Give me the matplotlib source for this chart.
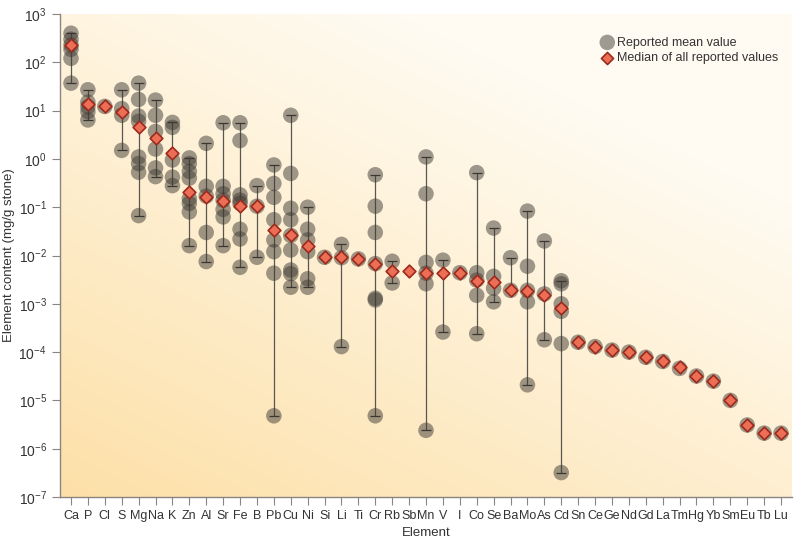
import numpy as np
import matplotlib
matplotlib.use("Agg")
import matplotlib.pyplot as plt

plt.rcParams['font.family'] = ['Liberation Sans', 'DejaVu Sans']
plt.rcParams['mathtext.default'] = 'regular'

# ── DATA ─────────────────────────────────────────────────────────────────────
elements = ['Ca', 'P', 'Cl', 'S', 'Mg', 'Na', 'K', 'Zn', 'Al', 'Sr', 'Fe', 'B', 'Pb', 'Cu',
            'Ni', 'Si', 'Li', 'Ti', 'Cr', 'Rb', 'Sb', 'Mn', 'V', 'I', 'Co', 'Se', 'Ba', 'Mo',
            'As', 'Cd', 'Sn', 'Ce', 'Ge', 'Nd', 'Gd', 'La', 'Tm', 'Hg', 'Yb', 'Sm', 'Eu', 'Tb', 'Lu']

# reported mean values per element (mg/g stone)
reported = [
    [400, 300, 228, 186, 121, 37],                          # Ca
    [27, 15, 12, 9.5, 6.4],                                 # P
    [12.2],                                                 # Cl
    [27, 11, 8, 1.5],                                       # S
    [37, 17, 7.7, 6, 1.1, 0.8, 0.53, 0.067],                # Mg
    [16.5, 8, 3.7, 1.6, 0.65, 0.43],                        # Na
    [5.7, 4.5, 0.95, 0.42, 0.28],                           # K
    [1.05, 0.8, 0.55, 0.4, 0.15, 0.12, 0.08, 0.016],        # Zn
    [2.1, 0.27, 0.17, 0.03, 0.0075],                        # Al
    [5.6, 0.27, 0.19, 0.14, 0.09, 0.063, 0.016],            # Sr
    [5.6, 2.4, 0.18, 0.14, 0.12, 0.035, 0.022, 0.0057],     # Fe
    [0.28, 0.105, 0.0092],                                  # B
    [0.75, 0.31, 0.16, 0.055, 0.021, 0.012, 0.0043, 4.8e-6],  # Pb
    [8.0, 0.5, 0.095, 0.055, 0.026, 0.013, 0.005, 0.0042, 0.0022],  # Cu
    [0.1, 0.035, 0.021, 0.012, 0.0033, 0.0022],             # Ni
    [0.0092],                                               # Si
    [0.017, 0.009, 0.00013],                                # Li
    [0.0085],                                               # Ti
    [0.47, 0.105, 0.03, 0.0068, 0.0013, 0.0012, 4.8e-6],    # Cr
    [0.0076, 0.0027],                                       # Rb
    [],                                                     # Sb
    [1.1, 0.19, 0.0072, 0.0043, 0.0026, 2.4e-6],            # Mn
    [0.008, 0.00026],                                       # V
    [0.0044],                                               # I
    [0.52, 0.0044, 0.0031, 0.0015, 0.00024],                # Co
    [0.037, 0.0037, 0.0021, 0.0011],                        # Se
    [0.009, 0.0019],                                        # Ba
    [0.083, 0.006, 0.0019, 0.0011, 2.1e-5],                 # Mo
    [0.02, 0.0016, 0.00018],                                # As
    [0.003, 0.0026, 0.001, 0.0007, 0.00015, 3.2e-7],        # Cd
    [1.6e-4], [1.3e-4], [1.1e-4], [1.0e-4], [7.8e-5], [6.4e-5],  # Sn Ce Ge Nd Gd La
    [4.6e-5], [3.2e-5], [2.5e-5], [1.0e-5], [3.1e-6], [2.1e-6], [2.1e-6],  # Tm Hg Yb Sm Eu Tb Lu
]

medians = [225, 13.5, 12.2, 9.5, 4.6, 2.7, 1.3, 0.21, 0.16, 0.135, 0.105, 0.105, 0.034, 0.026,
           0.016, 0.0092, 0.0091, 0.0085, 0.0068, 0.0048, 0.0048, 0.0044, 0.0044, 0.0044, 0.003,
           0.0028, 0.0019, 0.0018, 0.0015, 0.00082, 1.6e-4, 1.3e-4, 1.1e-4, 1.0e-4, 7.8e-5,
           6.4e-5, 4.8e-5, 3.2e-5, 2.5e-5, 1.0e-5, 3.1e-6, 2.1e-6, 2.1e-6]

# ── PLOT ─────────────────────────────────────────────────────────────────────
fig = plt.figure(figsize=(8.0, 5.47), dpi=100)
ax = fig.add_axes([0.075, 0.0914, 0.915, 0.883])

# background gradient: warm orange bottom-left → near white top-right
gx, gy = np.meshgrid(np.linspace(0, 1, 300), np.linspace(0, 1, 300))
t = np.clip(0.55 * gx + 0.75 * gy, 0, 1)
lo = np.array([253, 224, 168]) / 255.0
hi = np.array([255, 251, 242]) / 255.0
grad = lo[None, None, :] * (1 - t[..., None]) + hi[None, None, :] * t[..., None]
grad = grad[::-1]
ax.imshow(grad, extent=[0, 1, 0, 1], transform=ax.transAxes, aspect='auto', zorder=0,
          origin='upper')

xs = np.arange(len(elements))
line_col = '#5a5650'
for i, vals in enumerate(reported):
    if len(vals) > 1:
        ax.vlines(i, min(vals), max(vals), color=line_col, lw=0.9, zorder=2)
        ax.scatter([i, i], [min(vals), max(vals)], marker='_', s=60, color='#3a3632',
                   linewidths=0.9, zorder=4)
    if vals:
        ax.scatter([i] * len(vals), vals, s=125, color='#3e3a34', alpha=0.5,
                   edgecolors='none', zorder=3)

ax.scatter(xs, medians, marker='D', s=42, color='#ec6e55', edgecolors='#9c2a1e',
           linewidths=1.2, zorder=5)

ax.set_yscale('log')
ax.set_ylim(1e-7, 1e3)
ax.set_xlim(-0.65, len(elements) - 0.35)
ax.set_xticks(xs)
ax.set_xticklabels(elements)
ax.set_yticks([10.0 ** k for k in range(-7, 4)])

for side in ['top', 'right']:
    ax.spines[side].set_visible(False)
for side in ['left', 'bottom']:
    ax.spines[side].set_color('#8a8580')
    ax.spines[side].set_linewidth(1.0)

ax.tick_params(axis='both', colors='#8a8580', labelcolor='#333333')
ax.tick_params(axis='x', length=6, pad=3, labelsize=9)
ax.tick_params(axis='y', which='major', length=6, labelsize=10)
ax.tick_params(axis='y', which='minor', length=3)

ax.set_xlabel('Element', fontsize=9.5, color='#333333', labelpad=4)
ax.set_ylabel('Element content (mg/g stone)', fontsize=9.5, color='#333333')
ax.yaxis.set_label_coords(-0.062, 0.5)

# legend
h1 = ax.scatter([], [], s=125, color='#3e3a34', alpha=0.5, edgecolors='none')
h2 = ax.scatter([], [], marker='D', s=38, color='#ec6e55', edgecolors='#9c2a1e', linewidths=1.2)
ax.legend([h1, h2], ['Reported mean value', 'Median of all reported values'],
          loc='upper left', bbox_to_anchor=(0.728, 0.966), frameon=False, fontsize=9,
          handletextpad=0.1, borderpad=0, labelspacing=0.25, handlelength=1.3,
          labelcolor='#333333')

fig.savefig('out.png', dpi=100)
